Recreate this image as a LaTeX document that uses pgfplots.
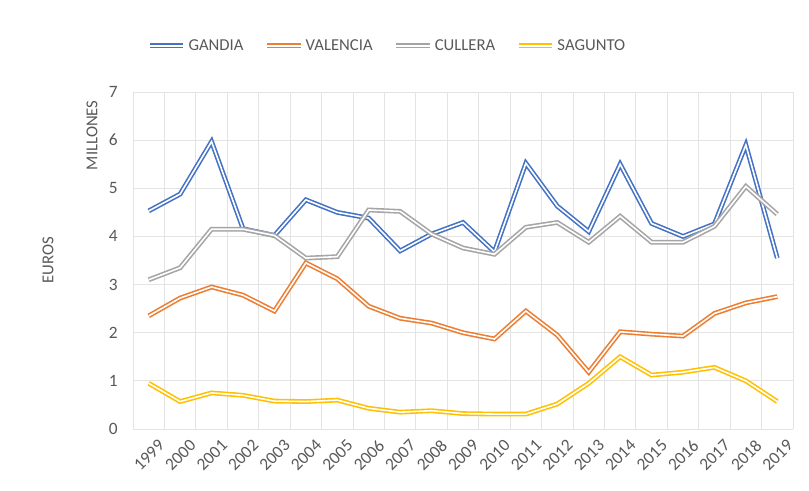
\documentclass[border=0pt]{standalone}
\usepackage{pgfplots}
\pgfplotsset{compat=1.18}
\usepackage{fontspec}
\setmainfont{Carlito}
\definecolor{cblue}{HTML}{4472C4}
\definecolor{corange}{HTML}{ED7D31}
\definecolor{cgray}{HTML}{A5A5A5}
\definecolor{cyellow}{HTML}{FFC000}
\definecolor{textgray}{HTML}{595959}
\definecolor{gridgray}{HTML}{E3E3E3}
\begin{document}
\begin{tikzpicture}
\useasboundingbox (0,0) rectangle (606.75pt,367.5pt);
\begin{axis}[
  at={(99.75pt,45.75pt)}, anchor=south west,
  scale only axis, width=495pt, height=252.75pt,
  xmin=-0.5, xmax=20.5, ymin=0, ymax=7,
  xtick={0,...,20},
  xticklabels={1999,2000,2001,2002,2003,2004,2005,2006,2007,2008,2009,2010,2011,2012,2013,2014,2015,2016,2017,2018,2019},
  minor xtick={-0.5,0.5,...,20.5},
  ytick={0,...,7},
  xminorgrids=true, ymajorgrids=true, xmajorgrids=false,
  grid style={draw=gridgray, line width=0.75pt},
  minor grid style={draw=gridgray, line width=0.75pt},
  axis line style={draw=none},
  tick style={draw=none},
  major tick length=0pt, minor tick length=0pt,
  /pgf/number format/assume math mode=true,
  ticklabel style={text=textgray, font=\fontsize{13}{15}\selectfont},
  yticklabel style={xshift=-8pt},
  xticklabel style={rotate=45, anchor=east, xshift=3pt, yshift=-14pt},
  legend style={at={(0.386,1.137)}, anchor=center, draw=none, fill=none,
    legend columns=-1, font=\fontsize{12.5}{14}\selectfont, text=textgray,
    /tikz/every even column/.append style={column sep=14pt}},
  legend image code/.code={\draw[#1] (0cm,0cm) -- (0.88cm,0cm);},
  every axis plot/.append style={line width=1.2pt, double=white, double distance=1.2pt},
]
\addplot[cblue] coordinates {
(0,4.53) (1,4.88) (2,5.97) (3,4.16) (4,4.02) (5,4.76) (6,4.50) (7,4.38)
(8,3.70) (9,4.05) (10,4.29) (11,3.68) (12,5.52) (13,4.63) (14,4.10)
(15,5.50) (16,4.27) (17,4.00) (18,4.26) (19,5.90) (20,3.55)};
\addlegendentry{GANDIA}
\addplot[corange] coordinates {
(0,2.35) (1,2.72) (2,2.95) (3,2.78) (4,2.45) (5,3.45) (6,3.12) (7,2.55)
(8,2.30) (9,2.20) (10,2.00) (11,1.87) (12,2.45) (13,1.95) (14,1.18)
(15,2.02) (16,1.97) (17,1.93) (18,2.40) (19,2.62) (20,2.75)};
\addlegendentry{VALENCIA}
\addplot[cgray] coordinates {
(0,3.10) (1,3.35) (2,4.15) (3,4.15) (4,4.02) (5,3.55) (6,3.58) (7,4.55)
(8,4.52) (9,4.05) (10,3.76) (11,3.63) (12,4.19) (13,4.29) (14,3.88)
(15,4.42) (16,3.88) (17,3.88) (18,4.21) (19,5.04) (20,4.46)};
\addlegendentry{CULLERA}
\addplot[cyellow] coordinates {
(0,0.95) (1,0.57) (2,0.75) (3,0.70) (4,0.58) (5,0.57) (6,0.60) (7,0.43)
(8,0.35) (9,0.38) (10,0.32) (11,0.31) (12,0.31) (13,0.52) (14,0.95)
(15,1.50) (16,1.12) (17,1.18) (18,1.28) (19,1.00) (20,0.57)};
\addlegendentry{SAGUNTO}
\end{axis}
\node[rotate=90, text=textgray, font=\fontsize{12.5}{14}\selectfont] at (69pt,266pt) {MILLONES};
\node[rotate=90, text=textgray, font=\fontsize{12.5}{14}\selectfont] at (36pt,172.5pt) {EUROS};
\end{tikzpicture}
\end{document}
